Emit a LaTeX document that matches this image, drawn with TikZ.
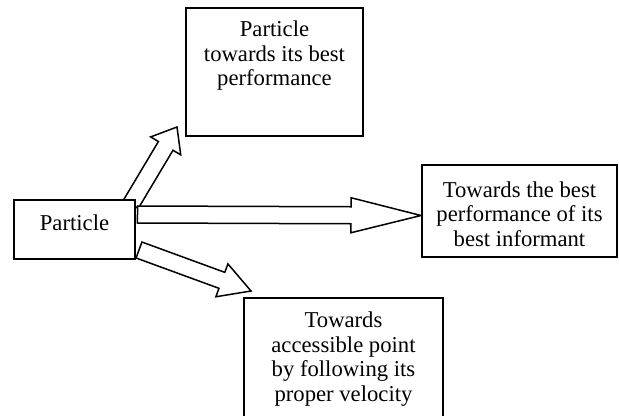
\documentclass[tikz,border=0pt]{standalone}
\usepackage{fontspec}
\setmainfont{Liberation Serif}
\usetikzlibrary{calc,fit,backgrounds}

\tikzset{
  box/.style={draw, fill=white, line width=1.2pt, inner sep=0pt},
  txt/.style={align=center, inner sep=0pt, font=\fontsize{13.6}{14.7}\selectfont},
  % outlined block arrow, #1 = head length
  fatarrow/.style={draw, fill=white, line width=0.9pt, line join=miter,
    to path={($(\tikztostart)!5.1pt!90:(\tikztotarget)$)
      -- ($(\tikztotarget)!#1!(\tikztostart)!5.1pt!-90:(\tikztostart)$)
      -- ($(\tikztotarget)!#1!(\tikztostart)!10.5pt!-90:(\tikztostart)$)
      -- (\tikztotarget)
      -- ($(\tikztotarget)!#1!(\tikztostart)!10.5pt!90:(\tikztostart)$)
      -- ($(\tikztotarget)!#1!(\tikztostart)!5.1pt!90:(\tikztostart)$)
      -- ($(\tikztostart)!5.1pt!-90:(\tikztotarget)$)
      -- cycle}}
}

\begin{document}
\begin{tikzpicture}[x=0.6pt, y=-0.6pt]
        \clip (0,0) rectangle (619,416);

        % Boxes
        \node[box, fit={(14,200) (135,259)}]  (part)   {};
        \node[box, fit={(186,8) (363,136)}]   (best)   {};
        \node[box, fit={(422,165) (617,257)}] (inform) {};
        \node[box, fit={(244,298) (443,440)}] (veloc)  {};

        % Labels
        \node[txt, anchor=base]  (parttxt)   at ([shift={(0,31)}]part.north)     {Particle};
        \node[txt, anchor=north] (besttxt)   at ([shift={(0,13.7)}]best.north)   {Particle\\towards its best\\performance};
        \node[txt, anchor=north] (informtxt) at ([shift={(0,17.4)}]inform.north) {Towards the best\\performance of its\\best informant};
        \node[txt, anchor=north] (veloctxt)  at ([shift={(0,14.7)}]veloc.north)  {Towards\\accessible point\\by following its\\proper velocity};

        % Arrow ends
        \coordinate (s1) at ([shift={(-5,5)}]part.north east);
        \coordinate (t1) at ([shift={(-8,-10)}]best.south west);
        \coordinate (s2) at ([shift={(1.5,15.5)}]part.north east);
        \coordinate (t2) at ([shift={(0,4.5)}]inform.west);
        \coordinate (s3) at ([shift={(3,-10)}]part.south east);
        \coordinate (t3) at ([shift={(8,-6)}]veloc.north west);

        % Arrows
        \begin{scope}[on background layer]
          \draw[fatarrow=13.2pt] (s1) to (t1);
          \draw[fatarrow=42pt]   (s2) to (t2);
          \draw[fatarrow=18.6pt] (s3) to (t3);
        \end{scope}
\end{tikzpicture}
\end{document}
